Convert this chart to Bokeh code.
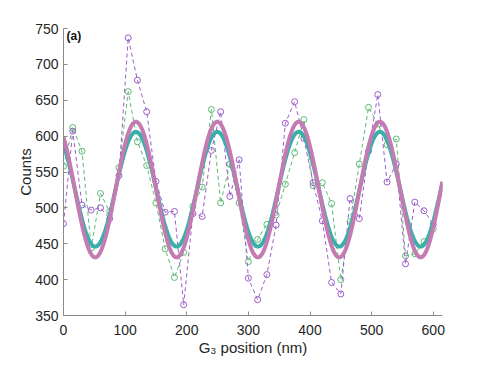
from bokeh.plotting import figure
from bokeh.models import Label, FixedTicker
from bokeh.embed import file_html
from bokeh.resources import INLINE
import numpy as np

# G3 positions (nm)
positions = [0, 15, 30, 45, 60, 75, 90, 105, 120, 135, 150, 165, 180, 195, 210,
             225, 240, 255, 270, 285, 300, 315, 330, 345, 360, 375, 390, 405,
             420, 435, 450, 465, 480, 495, 510, 525, 540, 555, 570, 585, 600]

counts_green = [558, 612, 579, 444, 520, 495, 556, 662, 592, 559, 507, 443, 403,
                438, 502, 529, 637, 507, 561, 507, 425, 456, 477, 490, 533, 577,
                623, 531, 535, 506, 400, 481, 561, 640, 617, 588, 596, 433, 436,
                453, 471]

counts_purple = [478, 607, 504, 497, 500, 485, 545, 737, 678, 634, 537, 494, 495,
                 365, 492, 488, 580, 634, 516, 567, 402, 372, 407, 476, 618, 648,
                 597, 535, 482, 396, 380, 513, 485, 579, 658, 536, 561, 422, 508,
                 496, 477]

# sinusoidal fit parameters: offset, amplitude, period (nm), position of first minimum (nm)
fit_teal = dict(offset=526.0, amplitude=80.0, period=132.0, x_min=51.5)
fit_pink = dict(offset=525.5, amplitude=94.5, period=132.0, x_min=51.5)

x_ticks = [0, 100, 200, 300, 400, 500, 600]
y_ticks = [350, 400, 450, 500, 550, 600, 650, 700, 750]

x_fit = np.linspace(0, 615, 600)


def sine(params):
    return params["offset"] - params["amplitude"] * np.cos(
        2 * np.pi * (x_fit - params["x_min"]) / params["period"])


p = figure(width=480, height=358, x_range=(0, 615), y_range=(350, 750),
           output_backend="svg", toolbar_location=None,
           min_border_left=63, min_border_top=28, min_border_right=38,
           min_border_bottom=38)
p.outline_line_color = None
p.grid.grid_line_color = None
p.background_fill_color = "white"
p.border_fill_color = "white"

GREEN = "#5cba72"
PURPLE = "#9c5cc9"
TEAL = "#3aaea8"
PINK = "#c47bb2"

p.line(positions, counts_green, line_color=GREEN, line_width=1, line_dash="4 3")
p.scatter(positions, counts_green, marker="circle", size=6, fill_color=None,
          line_color=GREEN, line_width=1)
p.line(positions, counts_purple, line_color=PURPLE, line_width=1, line_dash="4 3")
p.scatter(positions, counts_purple, marker="circle", size=6, fill_color=None,
          line_color=PURPLE, line_width=1)

p.line(x_fit, sine(fit_teal), line_color=TEAL, line_width=4)
p.line(x_fit, sine(fit_pink), line_color=PINK, line_width=4)

for ax in (p.xaxis, p.yaxis):
    ax.axis_line_color = "#8a8a8a"
    ax.major_tick_line_color = "#8a8a8a"
    ax.major_tick_in = 4
    ax.major_tick_out = 0
    ax.minor_tick_line_color = None
    ax.major_label_text_font = "Liberation Sans"
    ax.major_label_text_font_size = "14px"
    ax.major_label_text_color = "#262626"
    ax.axis_label_text_font = "Liberation Sans"
    ax.axis_label_text_font_size = "15px"
    ax.axis_label_text_font_style = "normal"
    ax.axis_label_text_color = "#262626"

p.xaxis.ticker = FixedTicker(ticks=x_ticks)
p.yaxis.ticker = FixedTicker(ticks=y_ticks)
p.xaxis.axis_label = "G\u2083 position (nm)"
p.yaxis.axis_label = "Counts"
p.xaxis.major_label_standoff = 9
p.yaxis.major_label_standoff = 5
p.xaxis.axis_label_standoff = 1
p.yaxis.axis_label_standoff = -2

p.add_layout(Label(x=5, y=739, text="(a)", text_font="Liberation Sans",
                   text_font_size="12px", text_font_style="bold",
                   text_baseline="middle", text_color="#111111"))

open("out.html", "w").write(file_html(p, INLINE))
